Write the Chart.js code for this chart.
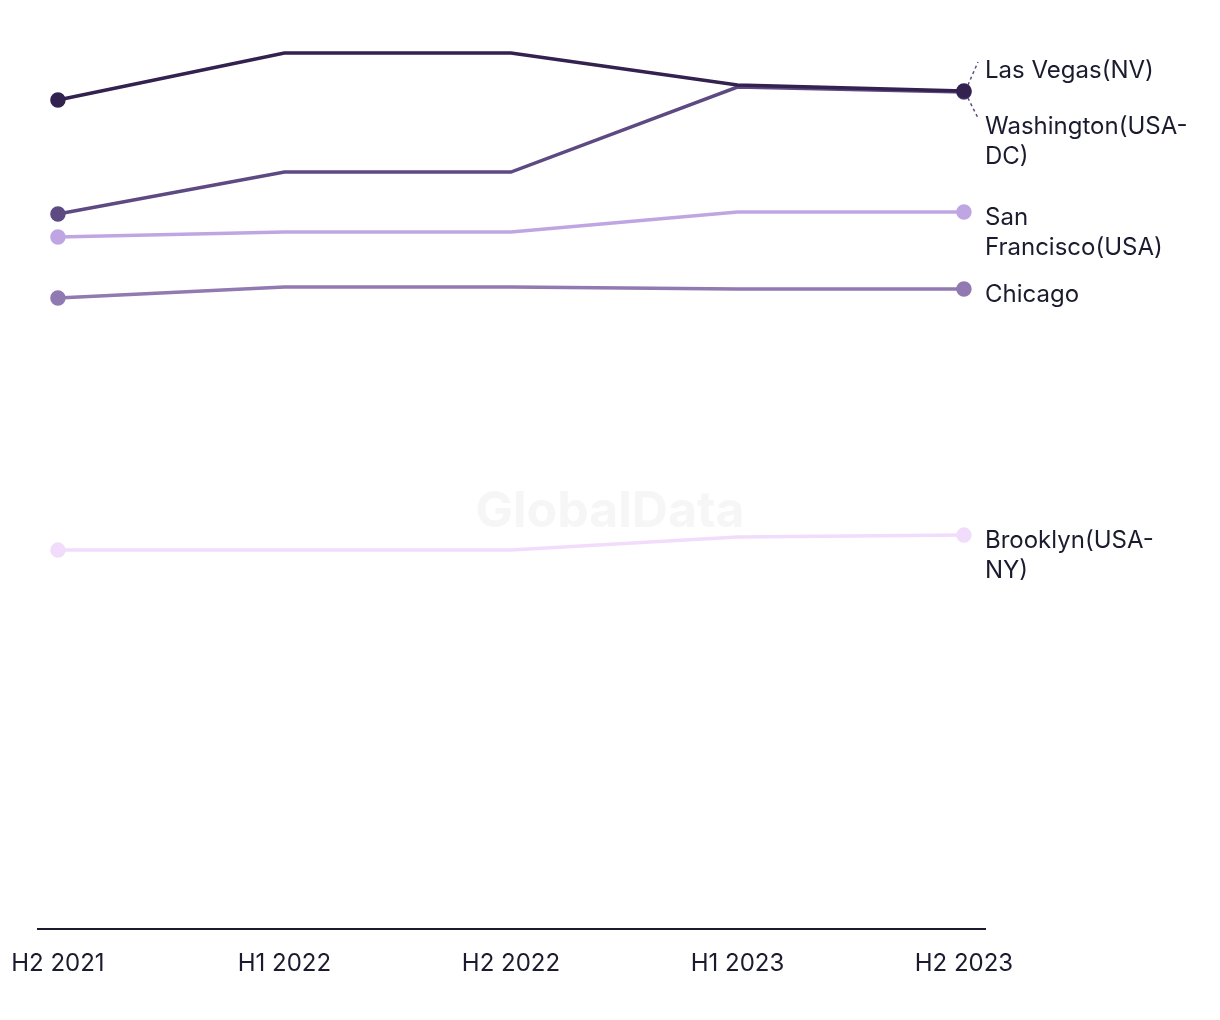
<!DOCTYPE html>
<html>
<head>
<meta charset="utf-8">
<script src="https://cdn.jsdelivr.net/npm/chart.js@4.4.1/dist/chart.umd.min.js"></script>
<style>
  body { margin: 0; background: #fff; }
  canvas { display: block; }
</style>
</head>
<body>
<canvas id="chart" width="1220" height="1020"></canvas>
<script>
// periods on the x axis
const periods = ['H2 2021', 'H1 2022', 'H2 2022', 'H1 2023', 'H2 2023'];

// series names, wrapped the way the end labels are
const cityNames = ['Las Vegas(NV)', 'Washington(USA-DC)', 'San Francisco(USA)', 'Chicago', 'Brooklyn(USA-NY)'];
const cityLabelLines = [
    ['Las Vegas(NV)'],
    ['Washington(USA-', 'DC)'],
    ['San', 'Francisco(USA)'],
    ['Chicago'],
    ['Brooklyn(USA-', 'NY)']
];

// values (no y axis shown)
const lasVegas      = [82.9, 87.6, 87.6, 84.4, 83.8];
const washington    = [71.5, 75.7, 75.7, 84.2, 83.7];
const sanFrancisco  = [69.2, 69.7, 69.7, 71.7, 71.7];
const chicago       = [63.1, 64.2, 64.2, 64.0, 64.0];
const brooklyn      = [37.9, 37.9, 37.9, 39.2, 39.4];

const seriesValues = [lasVegas, washington, sanFrancisco, chicago, brooklyn];
const seriesColors = ['#33214f', '#5e4a82', '#bfa6e2', '#9179b1', '#f2dcfb'];

const textColor = '#1b1b2f';

const datasets = seriesValues.map((vals, i) => ({
    label: cityNames[i],
    data: vals.map((v, j) => ({ x: j, y: v })),
    borderColor: seriesColors[i],
    backgroundColor: seriesColors[i],
    borderWidth: 3.5,
    pointRadius: vals.map((v, j) => (j === 0 || j === vals.length - 1) ? 6 : 0),
    pointHoverRadius: 0,
    tension: 0
}));

// faint watermark behind the lines
const watermark = {
    id: 'watermark',
    beforeDatasetsDraw(chart) {
        const ctx = chart.ctx;
        ctx.save();
        ctx.font = 'bold 50px Inter';
        ctx.fillStyle = '#f6f6f6';
        ctx.textAlign = 'center';
        ctx.textBaseline = 'middle';
        ctx.fillText('GlobalData', chart.width / 2, 512);
        ctx.restore();
    }
};

// labels at the end of each line, nudged apart when they collide
const endLabels = {
    id: 'endLabels',
    afterDatasetsDraw(chart) {
        const ctx = chart.ctx;
        const items = chart.data.datasets.map((ds, i) => {
            const meta = chart.getDatasetMeta(i);
            const pt = meta.data[meta.data.length - 1];
            return { i, px: pt.x, py: pt.y, y: pt.y + 6, leader: 0 };
        }).sort((a, b) => a.py - b.py);

        for (let k = 1; k < items.length; k++) {
            const a = items[k - 1], b = items[k];
            if (Math.abs(b.py - a.py) < 30) {
                a.y = a.py - 20; a.leader = -1;
                b.y = b.py + 35; b.leader = 1;
            }
        }

        const labelX = chart.chartArea.right;
        ctx.save();
        items.forEach(it => {
            if (it.leader !== 0) {
                ctx.strokeStyle = seriesColors[1];
                ctx.lineWidth = 1.5;
                ctx.setLineDash([3, 3]);
                ctx.beginPath();
                ctx.moveTo(it.px + 4, it.py + it.leader * 6);
                ctx.lineTo(labelX - 7, it.y - 9);
                ctx.stroke();
                ctx.setLineDash([]);
            }
            ctx.font = '24px Inter';
            ctx.fillStyle = textColor;
            ctx.textAlign = 'left';
            ctx.textBaseline = 'middle';
            cityLabelLines[it.i].forEach((line, n) => {
                ctx.fillText(line, labelX, it.y + n * 30);
            });
        });
        ctx.restore();
    }
};

new Chart(document.getElementById('chart'), {
    type: 'line',
    data: { datasets: datasets },
    options: {
        responsive: false,
        animation: false,
        layout: { padding: { left: 38, right: 235, top: 29, bottom: 22 } },
        plugins: {
            legend: { display: false },
            tooltip: { enabled: false }
        },
        scales: {
            x: {
                type: 'linear',
                min: -0.088,
                max: 4.093,
                afterBuildTicks(scale) {
                    scale.ticks = periods.map((p, j) => ({ value: j }));
                },
                afterFit(scale) {
                    // keep the plot edges where the layout padding puts them
                    scale.paddingLeft = 0;
                    scale.paddingRight = 0;
                },
                grid: { display: false, drawTicks: false },
                border: { display: true, color: textColor, width: 2 },
                ticks: {
                    color: textColor,
                    font: { family: 'Inter', size: 24 },
                    padding: 20,
                    maxRotation: 0,
                    autoSkip: false,
                    callback: (v) => periods[v]
                }
            },
            y: {
                display: false,
                min: 0,
                max: 90
            }
        }
    },
    plugins: [watermark, endLabels]
});
</script>
</body>
</html>
